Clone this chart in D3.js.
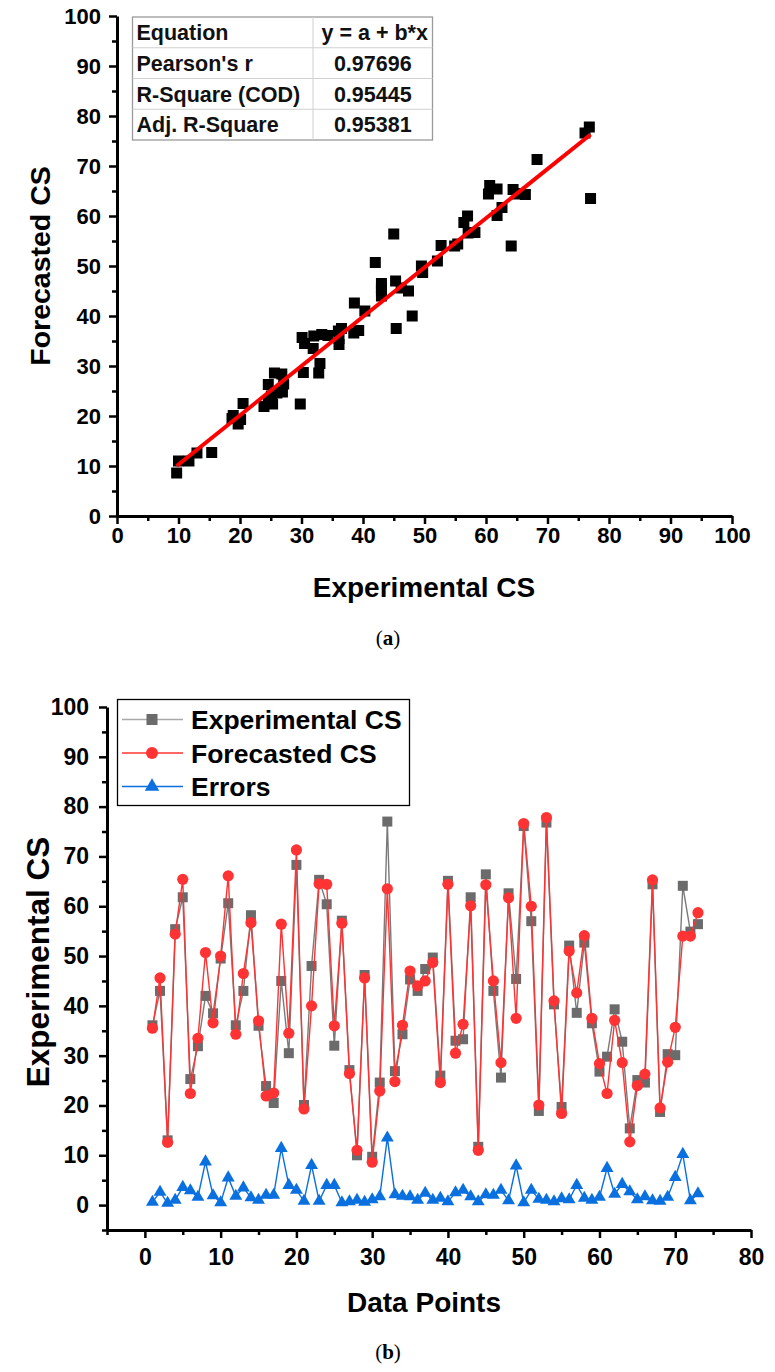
<!DOCTYPE html>
<html><head><meta charset="utf-8">
<script src="https://cdn.jsdelivr.net/npm/d3@7"></script>
<style>
body{margin:0;background:#fff}
svg text{font-family:"Liberation Sans",Arial,sans-serif}
</style>
</head><body>
<svg id="c" width="775" height="1372"></svg>
<script>
// ---------- DATA ----------
const experimental=[36.1,43,13,55.4,61.8,25.3,31.9,42,38.5,49.5,
60.6,36.1,43,58.2,36,23.9,20.5,45,30.5,68.3,
20.1,48,65.3,60.4,32,57.1,27.1,10,46.2,9.7,
24.6,77,26.9,34.3,45.3,43,47.4,49.7,26,65.1,
33,33.3,61.8,11.7,66.4,43,25.6,62.6,45.4,76.1,
57,18.9,76.8,40.3,19.7,52.1,38.6,52.7,36.5,26.8,
29.8,39.3,32.8,15.4,25.1,24.6,64.4,18.7,30.3,30.1,
64.1,54.9,56.4];
const forecasted=[35.5,45.6,12.6,54.4,65.4,22.4,33.5,50.7,36.6,50,
66.1,34.3,46.5,56.7,37,21.9,22.5,56.4,34.5,71.3,
19.3,40,64.5,64.4,36,56.6,26.4,11,45.6,8.6,
22.9,63.5,24.8,36.1,47,44,45,48.7,24.6,64.4,
30.5,36.3,60.1,11,64.3,45,28.6,61.7,37.5,76.6,
60,20.1,77.8,41,18.4,51,42.6,54.1,37.5,28.4,
22.4,37.1,28.6,12.7,24,26.3,65.3,19.5,28.7,35.7,
54,54,58.7];
const errors=[0.6,2.6,0.4,1.0,3.6,2.9,1.6,8.7,1.9,0.5,
5.5,1.8,3.5,1.5,1.0,2.0,2.0,11.4,4.0,3.0,
0.8,8.0,0.8,4.0,4.0,0.5,0.7,1.0,0.6,1.1,
1.7,13.5,2.1,1.8,1.7,1.0,2.4,1.0,1.4,0.7,
2.5,3.0,1.7,0.7,2.1,2.0,3.0,0.9,7.9,0.5,
3.0,1.2,1.0,0.7,1.3,1.1,4.0,1.4,1.0,1.6,
7.4,2.2,4.2,2.7,1.1,1.7,0.9,0.8,1.6,5.6,
10.2,0.9,2.3];
const fitLine=[[9.7,10.0],[77,76.3]];
const tableRows=[["Equation","y = a + b*x"],["Pearson's r","0.97696"],["R-Square (COD)","0.95445"],["Adj. R-Square","0.95381"]];
const topTicks=[0,10,20,30,40,50,60,70,80,90,100];
const topMinor=[5,15,25,35,45,55,65,75,85,95];
const botXTicks=[0,10,20,30,40,50,60,70,80];
const botXMinor=[-5,5,15,25,35,45,55,65,75];
const botYTicks=[0,10,20,30,40,50,60,70,80,90,100];
const botYMinor=[-5,5,15,25,35,45,55,65,75,85,95];
const seriesNames=["Experimental CS","Forecasted CS","Errors"];
const topXTitle="Experimental CS", topYTitle="Forecasted CS";
const botXTitle="Data Points", botYTitle="Experimental CS";

// ---------- DRAW ----------
const svg=d3.select("#c");
const C_GRAY="#6b6b6b", C_RED="#ff3333", C_BLUE="#0a70e0";

function styleAxis(g,fs){
  g.select(".domain").attr("stroke","#000").attr("stroke-width",3);
  g.selectAll(".tick line").attr("stroke","#000").attr("stroke-width",2.5);
  g.selectAll(".tick text").attr("fill","#000").style("font-size",fs+"px").style("font-weight","bold").style("font-family","'Liberation Sans',Arial,sans-serif");
}
function drawAxes(xs,ys,xT,xM,yT,yM,fs,xpad,ypad){
  const y0=ys.range()[0], x0=xs.range()[0];
  const gx=svg.append("g").attr("transform",`translate(0,${y0})`);
  gx.call(d3.axisBottom(xs).tickValues(xM).tickSize(5).tickFormat("").tickSizeOuter(0));
  gx.select(".domain").remove();
  gx.selectAll(".tick line").attr("stroke","#000").attr("stroke-width",2.5);
  const gx2=svg.append("g").attr("transform",`translate(0,${y0})`);
  gx2.call(d3.axisBottom(xs).tickValues(xT).tickSize(8).tickPadding(xpad).tickSizeOuter(0));
  styleAxis(gx2,fs);
  const gy=svg.append("g").attr("transform",`translate(${x0},0)`);
  gy.call(d3.axisLeft(ys).tickValues(yM).tickSize(5).tickFormat("").tickSizeOuter(0));
  gy.select(".domain").remove();
  gy.selectAll(".tick line").attr("stroke","#000").attr("stroke-width",2.5);
  const gy2=svg.append("g").attr("transform",`translate(${x0},0)`);
  gy2.call(d3.axisLeft(ys).tickValues(yT).tickSize(8).tickPadding(ypad).tickSizeOuter(0));
  styleAxis(gy2,fs);
}

// ===== Top chart (a) =====
const xT=d3.scaleLinear().domain([0,100]).range([117,732]);
const yT=d3.scaleLinear().domain([0,100]).range([516,16]);
const pairs=experimental.map((e,i)=>({x:e,y:forecasted[i]}));
svg.append("g").selectAll("rect").data(pairs).join("rect")
  .attr("x",d=>xT(d.x)-5.5).attr("y",d=>yT(d.y)-5.5)
  .attr("width",11).attr("height",11).attr("fill","#000");
svg.append("path").datum(fitLine)
  .attr("d",d3.line().x(d=>xT(d[0])).y(d=>yT(d[1])))
  .attr("stroke","#ff0000").attr("stroke-width",4).attr("fill","none");
drawAxes(xT,yT,topTicks,topMinor,topTicks,topMinor,22,3,8);

// table
const tbl=svg.append("g");
const tx0=132.5, tx1=313, tx2=432.5, ty0=17, rowH=30.75;
tbl.append("rect").attr("x",tx0).attr("y",ty0).attr("width",tx2-tx0).attr("height",rowH*4)
  .attr("fill","#fff").attr("stroke","#9a9a9a").attr("stroke-width",1.3);
for(let r=1;r<4;r++) tbl.append("line").attr("x1",tx0).attr("x2",tx2).attr("y1",ty0+r*rowH).attr("y2",ty0+r*rowH).attr("stroke","#d0d0d0").attr("stroke-width",1);
tbl.append("line").attr("x1",tx1).attr("x2",tx1).attr("y1",ty0).attr("y2",ty0+4*rowH).attr("stroke","#d0d0d0").attr("stroke-width",1);
tableRows.forEach((row,r)=>{
  tbl.append("text").attr("x",tx0+4).attr("y",ty0+r*rowH+23).text(row[0])
    .style("font-size","21.5px").style("font-weight","bold").attr("fill","#111");
  tbl.append("text").attr("x",(tx1+tx2)/2+(r===0?2:0)).attr("y",ty0+r*rowH+23).attr("text-anchor","middle").text(row[1])
    .style("font-size","21.5px").style("font-weight","bold").attr("fill","#111");
});

svg.append("text").attr("x",424).attr("y",597).attr("text-anchor","middle").text(topXTitle)
  .style("font-size","28px").style("font-weight","bold");
svg.append("text").attr("transform","translate(50,266) rotate(-90)").attr("text-anchor","middle").text(topYTitle)
  .style("font-size","28.5px").style("font-weight","bold");
const capA=svg.append("text").attr("x",388).attr("y",645).attr("text-anchor","middle")
  .style("font-family","'Liberation Serif','Times New Roman',serif").style("font-size","21px");
capA.append("tspan").text("(");capA.append("tspan").style("font-weight","bold").text("a");capA.append("tspan").text(")");

// ===== Bottom chart (b) =====
const xB=d3.scaleLinear().domain([-5,80]).range([107,751]);
const yB=d3.scaleLinear().domain([-5,100]).range([1230,707]);
const idx=experimental.map((_,i)=>i+1);
const lineGen=arr=>d3.line().x((d,i)=>xB(idx[i])).y(d=>yB(d))(arr);

// experimental
svg.append("path").attr("d",lineGen(experimental)).attr("stroke","#7a7a7a").attr("stroke-width",1.4).attr("fill","none");
svg.append("g").selectAll("rect").data(experimental).join("rect")
  .attr("x",(d,i)=>xB(idx[i])-5).attr("y",d=>yB(d)-5).attr("width",10).attr("height",10).attr("fill",C_GRAY);
// forecasted
svg.append("path").attr("d",lineGen(forecasted)).attr("stroke",C_RED).attr("stroke-width",1.4).attr("fill","none");
svg.append("g").selectAll("circle").data(forecasted).join("circle")
  .attr("cx",(d,i)=>xB(idx[i])).attr("cy",d=>yB(d)).attr("r",5.6).attr("fill",C_RED);
// errors
const tri=d3.symbol().type(d3.symbolTriangle).size(72);
svg.append("path").attr("d",lineGen(errors)).attr("stroke",C_BLUE).attr("stroke-width",1.4).attr("fill","none");
svg.append("g").selectAll("path").data(errors).join("path")
  .attr("d",tri).attr("transform",(d,i)=>`translate(${xB(idx[i])},${yB(d)})`).attr("fill",C_BLUE);

drawAxes(xB,yB,botXTicks,botXMinor,botYTicks,botYMinor,23,11,10);

// legend
const lg=svg.append("g");
lg.append("rect").attr("x",117.5).attr("y",699.5).attr("width",292).attr("height",106)
  .attr("fill","#fff").attr("stroke","#000").attr("stroke-width",1.3);
const legColors=["#a8a8a8",C_RED,C_BLUE];
seriesNames.forEach((name,k)=>{
  const cy=719.5+k*33.5;
  lg.append("line").attr("x1",122).attr("x2",183).attr("y1",cy).attr("y2",cy).attr("stroke",legColors[k]).attr("stroke-width",1.3);
  if(k===0) lg.append("rect").attr("x",146.5).attr("y",cy-5.5).attr("width",11).attr("height",11).attr("fill",C_GRAY);
  if(k===1) lg.append("circle").attr("cx",152).attr("cy",cy).attr("r",6).attr("fill",C_RED);
  if(k===2) lg.append("path").attr("d",d3.symbol().type(d3.symbolTriangle).size(90)()).attr("transform",`translate(152,${cy})`).attr("fill",C_BLUE);
  lg.append("text").attr("x",191).attr("y",cy+9.5).text(name).style("font-size","26.5px").style("font-weight","bold");
});

svg.append("text").attr("x",424).attr("y",1312).attr("text-anchor","middle").text(botXTitle)
  .style("font-size","28px").style("font-weight","bold");
svg.append("text").attr("transform","translate(49,962) rotate(-90)").attr("text-anchor","middle").text(botYTitle)
  .style("font-size","31.5px").style("font-weight","bold");
const capB=svg.append("text").attr("x",388).attr("y",1359).attr("text-anchor","middle")
  .style("font-family","'Liberation Serif','Times New Roman',serif").style("font-size","21px");
capB.append("tspan").text("(");capB.append("tspan").style("font-weight","bold").text("b");capB.append("tspan").text(")");
</script>
</body></html>
